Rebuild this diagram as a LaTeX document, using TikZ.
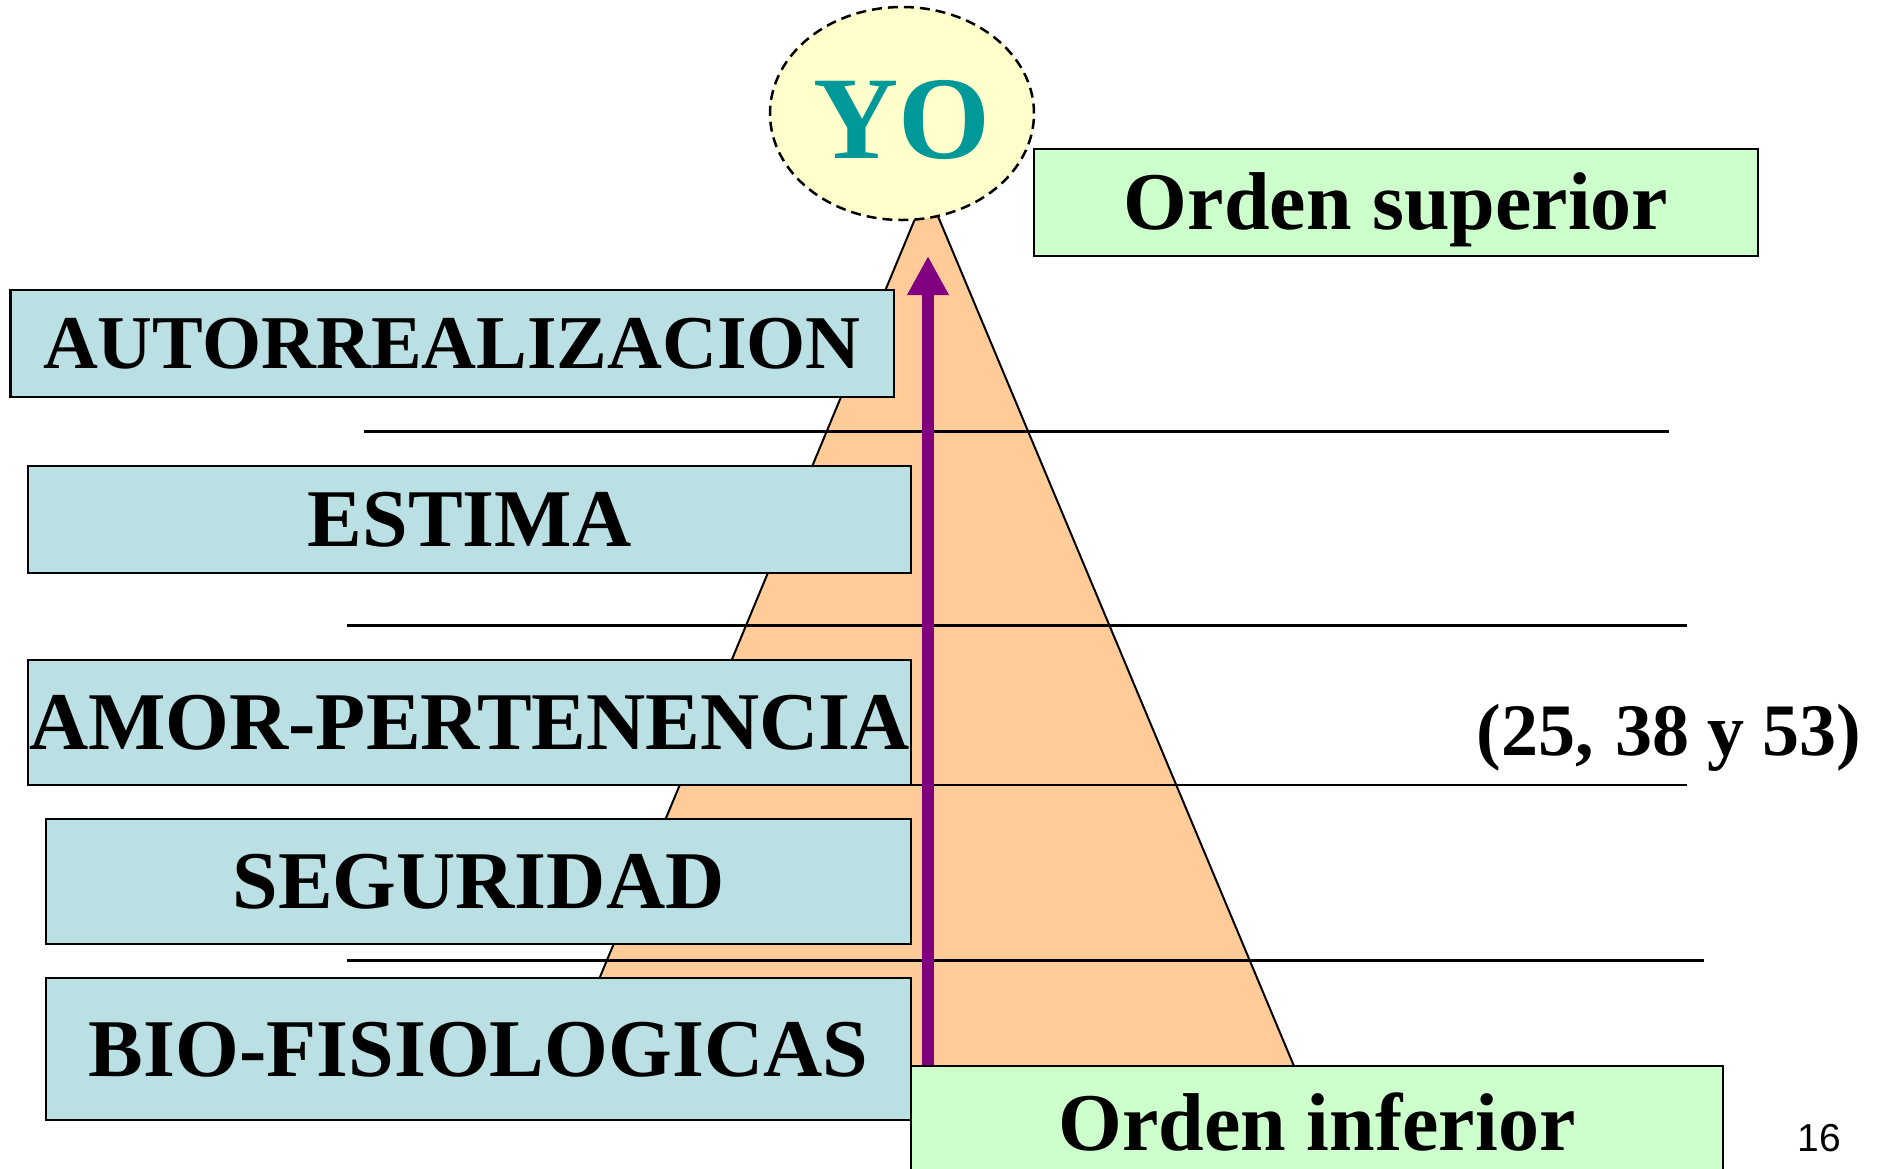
\documentclass[tikz,border=0pt]{standalone}
\usepackage{fontspec}
\setmainfont{Liberation Serif}
\newfontfamily\arialfont{Liberation Sans}
\usetikzlibrary{arrows.meta,shapes.geometric}
\definecolor{boxblue}{RGB}{187,224,227}
\definecolor{boxgreen}{RGB}{204,255,204}
\definecolor{pyr}{RGB}{255,204,153}
\definecolor{arrowpurple}{RGB}{128,0,128}
\definecolor{yofill}{RGB}{255,255,204}
\definecolor{yoteal}{RGB}{0,153,153}
\begin{document}
\begin{tikzpicture}[x=1pt,y=-1pt,
  need/.style={draw, line width=2.5pt, fill=boxblue, inner sep=0pt,
    text height=54pt, text depth=0pt, font=\fontsize{82}{90}\selectfont\bfseries},
  orden/.style={need, fill=boxgreen},
  rule/.style={line width=2.5pt}]
\useasboundingbox (0,0) rectangle (1883,1168);
\fill[white] (0,0) rectangle (1883,1168);
% pyramid
\draw[fill=pyr, line width=2pt, line join=round] (927,190) -- (553,1090) -- (1304,1090) -- cycle;
% level lines
\draw[rule] (364,431.7) -- (1669,431.7);
\draw[rule] (347,625.7) -- (1687,625.7);
\draw[rule] (347,784.8) -- (1687,784.8);
\draw[rule] (347,960.5) -- (1704,960.5);
% arrow
\coordinate (abot) at (928,1070);
\coordinate (atop) at (928,256);
\draw[arrowpurple, line width=12pt, -{Triangle[length=39pt,width=39pt]}] (abot) -- (atop);
% needs
\node[need, minimum width=883.5pt, minimum height=107pt, text height=50pt,
  font=\fontsize{76}{84}\selectfont\bfseries] (auto) at (452,343.5) {AUTORREALIZACION};
\node[need, minimum width=883pt, minimum height=107pt] (estima) at (469.5,519.5) {ESTIMA};
\node[need, minimum width=883pt, minimum height=125pt] (amor) at (469.5,722.5) {AMOR-PERTENENCIA};
\node[need, minimum width=865pt, minimum height=125pt] (seg) at (478.5,881.5) {SEGURIDAD};
\node[need, minimum width=865pt, minimum height=142pt] (bio) at (478.5,1049) {BIO-FISIOLOGICAS};
% order boxes
\node[orden, minimum width=724pt, minimum height=107pt] (sup) at (1396,202.5) {Orden superior};
\node[orden, minimum width=811.6pt, minimum height=114pt] (inf) at (1317,1123) {Orden inferior};
% YO
\node[ellipse, draw, dashed, dash pattern=on 10pt off 6pt, line width=2.5pt, fill=yofill,
  minimum width=264pt, minimum height=213pt, inner sep=0pt, text height=89pt, text depth=0pt,
  text=yoteal, font=\fontsize{118}{120}\selectfont\bfseries] (yo) at (902,113.5) {YO};
% numbers
\node[anchor=base, inner sep=0pt, font=\fontsize{74}{84}\selectfont\bfseries] (nums) at (1669,755)
  {(25,\hspace{22pt}38\hspace{18pt}y\hspace{18pt}53)};
\node[anchor=base, inner sep=0pt, font=\arialfont\fontsize{39}{45}\selectfont] (pg) at (1819,1151) {16};
\end{tikzpicture}
\end{document}
